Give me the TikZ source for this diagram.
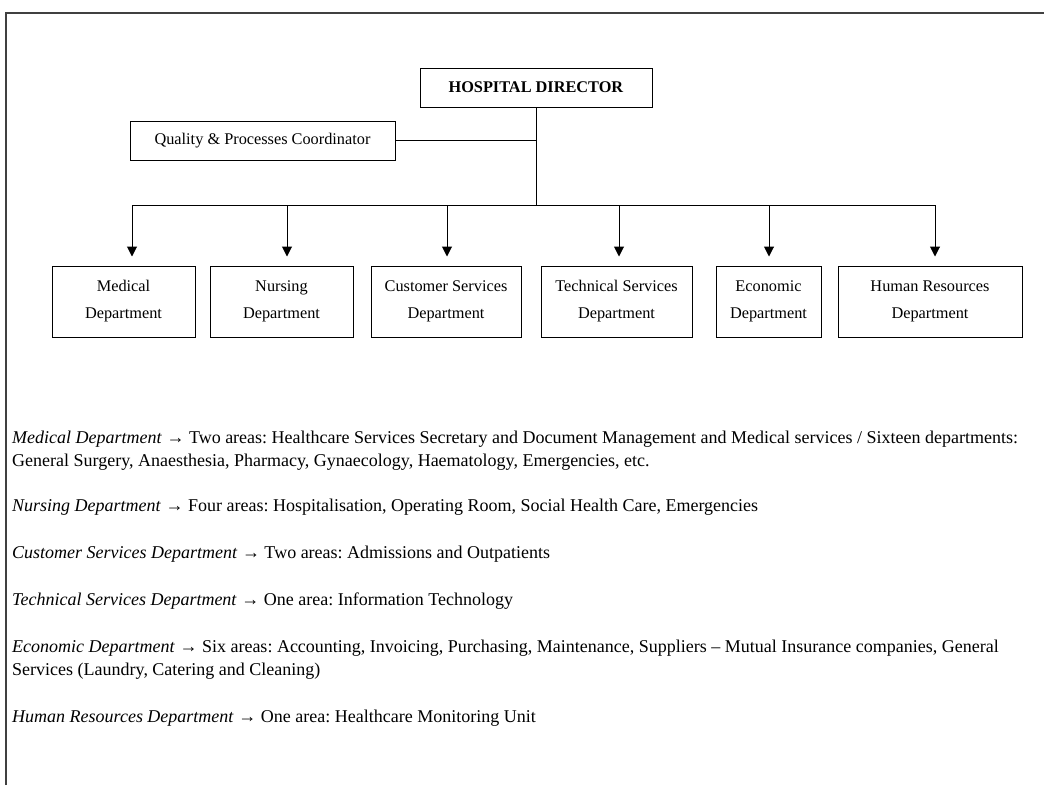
\documentclass[tikz,border=0pt]{standalone}
\usepackage{fontspec}
\setmainfont{Liberation Serif}
\usetikzlibrary{arrows.meta}
\frenchspacing
\tikzset{
  box/.style={draw, line width=1pt, inner sep=0pt, align=center, font=\fontsize{16.3}{27}\selectfont},
  line/.style={line width=1pt},
  arr/.style={line width=1pt, -{Triangle[width=10pt,length=10pt]}, shorten >=9pt},
  body/.style={anchor=base west, inner sep=0pt, font=\fontsize{18}{23}\selectfont},
  frame/.style={line width=1.6pt, draw=black!75}
}
\begin{document}
\begin{tikzpicture}[x=1pt,y=-1pt]
\useasboundingbox (0,0) rectangle (1044,785);
\fill[white] (0,0) rectangle (1044,785);
\draw[frame] (6,785) -- (6,13) -- (1044,13);

\node[box, minimum width=232pt, minimum height=39pt] (dir) at (536,87.5) {\textbf{HOSPITAL DIRECTOR}};
\node[box, minimum width=265pt, minimum height=39pt] (qpc) at (262.5,140.5) {Quality \& Processes Coordinator};

\node[box, minimum width=143pt, minimum height=71pt] (med) at (123.5,301.5) {Medical\\Department};
\node[box, minimum width=143pt, minimum height=71pt] (nur) at (281.5,301.5) {Nursing\\Department};
\node[box, minimum width=150pt, minimum height=71pt] (cus) at (446,301.5) {Customer Services\\Department};
\node[box, minimum width=151pt, minimum height=71pt] (tec) at (616.5,301.5) {Technical Services\\Department};
\node[box, minimum width=105pt, minimum height=71pt] (eco) at (768.5,301.5) {Economic\\Department};
\node[box, minimum width=184pt, minimum height=71pt] (hr) at (930,301.5) {Human Resources\\Department};

\coordinate (b1) at (132,205);
\coordinate (b2) at (287,205);
\coordinate (b3) at (447,205);
\coordinate (b4) at (619,205);
\coordinate (b5) at (769,205);
\coordinate (b6) at (935,205);
\coordinate (bm) at (dir.south |- b1);

\draw[line] (dir.south) -- (bm);
\draw[line] (qpc.east) -- (qpc.east -| dir.south);
\draw[line] (b1) -- (b6);
\draw[arr] (b1) -- (b1 |- med.north);
\draw[arr] (b2) -- (b2 |- nur.north);
\draw[arr] (b3) -- (b3 |- cus.north);
\draw[arr] (b4) -- (b4 |- tec.north);
\draw[arr] (b5) -- (b5 |- eco.north);
\draw[arr] (b6) -- (b6 |- hr.north);

\node[body] (t1) at (12,443) {\textit{Medical Department} → Two areas: Healthcare Services Secretary and Document Management and Medical services / Sixteen departments:};
\node[body] (t2) at (12,466) {General Surgery, Anaesthesia, Pharmacy, Gynaecology, Haematology, Emergencies, etc.};
\node[body] (t3) at (12,511) {\textit{Nursing Department} → Four areas: Hospitalisation, Operating Room, Social Health Care, Emergencies};
\node[body] (t4) at (12,558) {\textit{Customer Services Department} → Two areas: Admissions and Outpatients};
\node[body] (t5) at (12,605) {\textit{Technical Services Department} → One area: Information Technology};
\node[body] (t6) at (12,652) {\textit{Economic Department} → Six areas: Accounting, Invoicing, Purchasing, Maintenance, Suppliers – Mutual Insurance companies, General};
\node[body] (t7) at (12,675) {Services (Laundry, Catering and Cleaning)};
\node[body] (t8) at (12,722) {\textit{Human Resources Department} → One area: Healthcare Monitoring Unit};
\end{tikzpicture}
\end{document}
